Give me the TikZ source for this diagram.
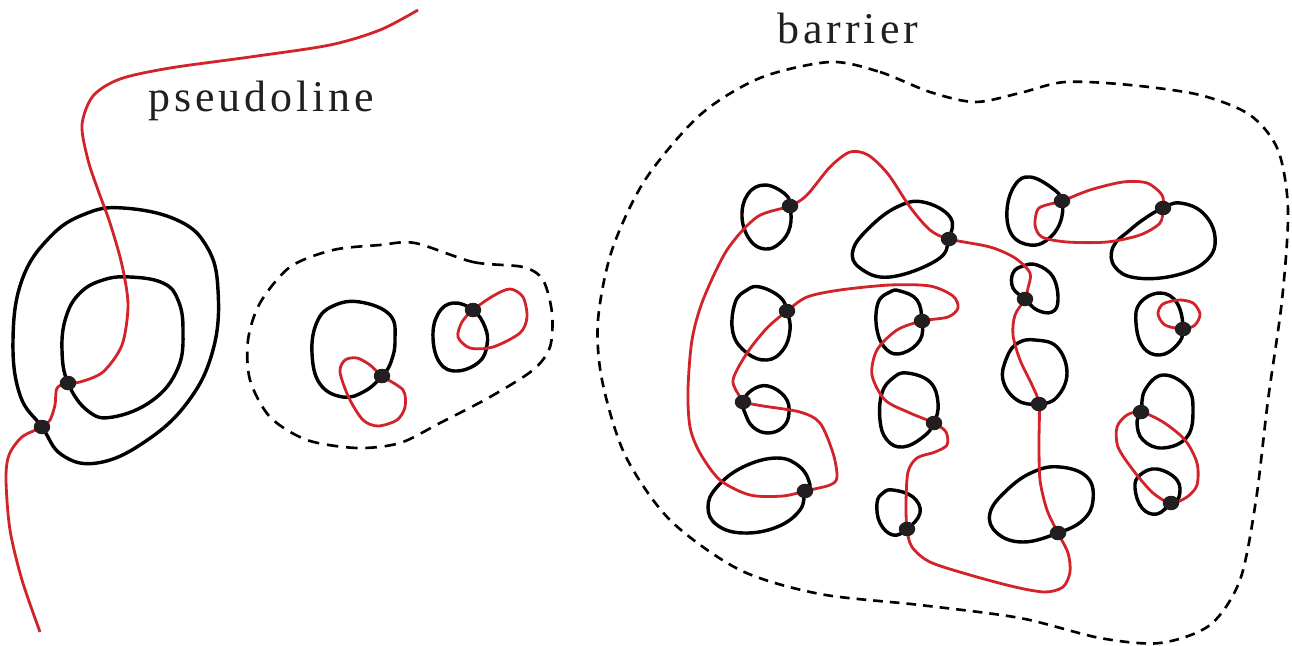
\documentclass[tikz,border=0pt]{standalone}
\usepackage{fontspec}
\setmainfont{Liberation Serif}
\newfontfamily\labelfont{Liberation Serif}[LetterSpace=9]
\usetikzlibrary{backgrounds, shapes.geometric}
\definecolor{pseudored}{RGB}{210,35,42}
\definecolor{ink}{RGB}{35,31,32}

\begin{document}
\begin{tikzpicture}[
    x=0.02cm, y=-0.02cm,
    ring/.style={
      draw,
      line width=1.95pt,
      line join=round
    },
    pseudo/.style={
      draw=pseudored,
      line width=1.6pt
    },
    fence/.style={
      draw,
      line width=1.5pt,
      dash pattern=on 5.5pt off 4pt
    },
    crossing/.style={
      ellipse,
      fill=ink,
      inner sep=0pt,
      minimum width=0.33cm,
      minimum height=0.29cm
    },
    tag/.style={
      font=\labelfont\fontsize{25}{30}\selectfont,
      text=ink,
      inner sep=0pt,
      anchor=base west
    },
]
\useasboundingbox (0,0) rectangle (1292,646);

% Labels
\node[tag] (pseudolabel) at (148,111) {pseudoline};
\node[tag] (barrierlabel) at (777,43) {barrier};

% Crossings
\foreach \n/\x/\y in {o1/68/383, o2/42/427, ma/382/376, mb/473/310,
    r1/790/206, r2/949/239, r3/1062/201, r4/1163/208,
    r5/787/311, r6/922/321, r7/1025/299, r8/1183/329,
    r9/743/402, r10/934/423, r11/1039/404, r12/1141/412,
    r13/805/491, r14/907/529, r15/1058/533, r16/1171/503}
  \node[crossing] (\n) at (\x,\y) {};

\begin{pgfonlayer}{background}
% Nested loops
\draw[ring] plot[smooth cycle, tension=0.7] coordinates {(123,208) (177,220) (207,247) (218,290) (213,350) (187,403) (143,443) (97,463) (62,455) (o2.center) (20,395) (13,340) (22,280) (50,237) (85,214)};
\draw[ring] plot[smooth cycle, tension=0.7] coordinates {(130,277) (163,283) (178,300) (183,330) (178,368) (153,400) (113,417) (88,411) (o1.center) (62,350) (66,317) (80,293) (103,280)};

% Pseudoline
\draw[pseudo] plot[smooth] coordinates {(418,10) (380,30) (330,45) (250,57) (170,68) (120,79) (93,96) (82,125) (88,160) (98,190) (110,223) (122,265) (128,305) (122,345) (103,372) (80,382) (o1.center) (57,388) (55,405) (50,420) (o2.center) (22,437) (9,455) (6,480) (10,530) (22,580) (40,632)};

% Small cluster
\draw[fence, dash pattern=on 6.5pt off 4.5pt] plot[smooth cycle] coordinates {(415,243) (473,262) (523,267) (543,280) (552,313) (550,347) (533,370) (490,397) (440,423) (400,443) (357,448) (307,440) (270,417) (250,380) (248,340) (260,303) (290,267) (333,250) (380,245)};
\draw[ring] plot[smooth cycle, tension=0.7] coordinates {(360,302) (390,315) (395,340) (391,362) (ma.center) (365,391) (343,397) (320,384) (312,353) (317,322) (333,306)};
\draw[pseudo] plot[smooth cycle] coordinates {(ma.center) (403,390) (405,407) (397,420) (378,426) (363,420) (349,398) (340,372) (345,360) (357,358) (370,365)};
\draw[ring] plot[smooth cycle, tension=0.7] coordinates {(453,303) (mb.center) (485,327) (487,345) (479,362) (457,371) (440,363) (433,338) (438,314)};
\draw[pseudo] plot[smooth cycle] coordinates {(mb.center) (493,296) (510,289) (523,297) (527,317) (520,333) (493,347) (470,348) (458,337) (462,322)};

% Barrier
\draw[fence] plot[smooth cycle] coordinates {(830,62) (880,72) (930,92) (975,102) (1020,93) (1065,82) (1130,85) (1200,95) (1250,115) (1278,150) (1288,210) (1282,300) (1268,400) (1256,500) (1240,580) (1210,625) (1160,643) (1100,638) (1020,618) (920,605) (820,594) (740,570) (670,520) (625,455) (602,380) (598,320) (612,250) (645,180) (700,115) (760,78)};

% Loops inside the barrier
\draw[ring] plot[smooth cycle, tension=0.7] coordinates {(765,185) (785,194) (r1.center) (790,227) (780,243) (765,249) (750,240) (742,217) (748,194)};
\draw[ring] plot[smooth cycle, tension=0.7] coordinates {(897,207) (923,202) (950,217) (r2.center) (937,260) (890,277) (860,268) (853,250) (870,227)};
\draw[ring] plot[smooth cycle, tension=0.7] coordinates {(1030,177) (1052,188) (r3.center) (1060,223) (1047,240) (1030,245) (1012,235) (1007,210) (1015,185)};
\draw[ring] plot[smooth cycle, tension=0.7] coordinates {(r4.center) (1180,203) (1203,213) (1215,237) (1207,260) (1177,275) (1137,278) (1115,267) (1113,247) (1130,230) (1147,217)};
\draw[ring] plot[smooth cycle, tension=0.7] coordinates {(760,287) (780,297) (r5.center) (790,330) (783,350) (767,360) (747,353) (733,333) (735,303) (747,290)};
\draw[ring] plot[smooth cycle, tension=0.7] coordinates {(900,291) (917,300) (r6.center) (920,340) (903,353) (887,350) (877,330) (878,303) (890,292)};
\draw[ring] plot[smooth cycle, tension=0.7] coordinates {(1037,265) (1053,277) (1058,300) (1052,312) (1037,310) (r7.center) (1013,288) (1013,273) (1023,266)};
\draw[ring] plot[smooth cycle, tension=0.7] coordinates {(1160,293) (1177,303) (r8.center) (1177,345) (1160,355) (1143,347) (1136,323) (1140,303)};
\draw[ring] plot[smooth cycle, tension=0.7] coordinates {(768,386) (785,397) (789,413) (783,427) (768,433) (753,427) (745,413) (r9.center) (752,390)};
\draw[ring] plot[smooth cycle, tension=0.7] coordinates {(907,373) (930,382) (938,403) (r10.center) (923,437) (903,447) (887,440) (880,420) (882,393) (893,378)};
\draw[ring] plot[smooth cycle, tension=0.7] coordinates {(1035,340) (1057,347) (1067,373) (1057,397) (r11.center) (1017,400) (1003,380) (1007,357) (1018,343)};
\draw[ring] plot[smooth cycle, tension=0.7] coordinates {(1163,375) (1187,387) (1193,410) (1187,437) (1163,448) (1143,440) (1137,423) (r12.center) (1145,390)};
\draw[ring] plot[smooth cycle, tension=0.7] coordinates {(743,467) (777,458) (800,467) (810,485) (r13.center) (800,510) (777,527) (743,533) (717,525) (708,507) (717,487)};
\draw[ring] plot[smooth cycle, tension=0.7] coordinates {(893,490) (913,497) (920,513) (r14.center) (893,535) (880,523) (877,503) (883,493)};
\draw[ring] plot[smooth cycle, tension=0.7] coordinates {(1033,472) (1060,467) (1087,477) (1093,500) (1083,520) (r15.center) (1023,542) (997,533) (990,513) (1007,490)};
\draw[ring] plot[smooth cycle, tension=0.7] coordinates {(1157,469) (1177,480) (1179,497) (r16.center) (1157,514) (1142,508) (1135,488) (1140,475)};

% Red curves inside the barrier
\draw[pseudo] plot[smooth cycle] coordinates {(r1.center) (807,195) (830,167) (850,152) (868,155) (888,174) (910,207) (930,230) (r2.center) (990,247) (1015,258) (1030,273) (1028,288) (r7.center) (1015,315) (1013,335) (1020,360) (1032,385) (r11.center) (1039,443) (1040,480) (1047,510) (r15.center) (1068,553) (1070,572) (1063,587) (1045,592) (1015,587) (970,575) (930,562) (912,547) (r14.center) (906,503) (908,472) (917,458) (935,452) (947,445) (946,432) (r10.center) (910,413) (885,400) (872,375) (877,350) (897,330) (r6.center) (948,317) (958,308) (953,296) (930,286) (890,285) (840,290) (807,297) (r5.center) (767,328) (747,353) (733,380) (740,397) (r9.center) (763,406) (800,412) (820,423) (833,453) (837,477) (830,485) (r13.center) (783,496) (750,495) (720,480) (700,453) (690,427) (688,390) (692,340) (703,300) (727,250) (757,217)};
\draw[pseudo] plot[smooth cycle] coordinates {(r3.center) (1090,190) (1123,182) (1147,183) (1162,195) (r4.center) (1160,223) (1140,235) (1107,242) (1067,242) (1042,237) (1035,225) (1038,209) (1050,204)};
\draw[pseudo] plot[smooth cycle] coordinates {(r8.center) (1195,325) (1200,314) (1193,303) (1179,300) (1163,304) (1158,314) (1165,325)};
\draw[pseudo] plot[smooth cycle] coordinates {(r12.center) (1163,422) (1185,440) (1197,463) (1197,485) (1187,497) (r16.center) (1153,493) (1133,470) (1118,447) (1117,427) (1127,415)};
\end{pgfonlayer}

\end{tikzpicture}
\end{document}
